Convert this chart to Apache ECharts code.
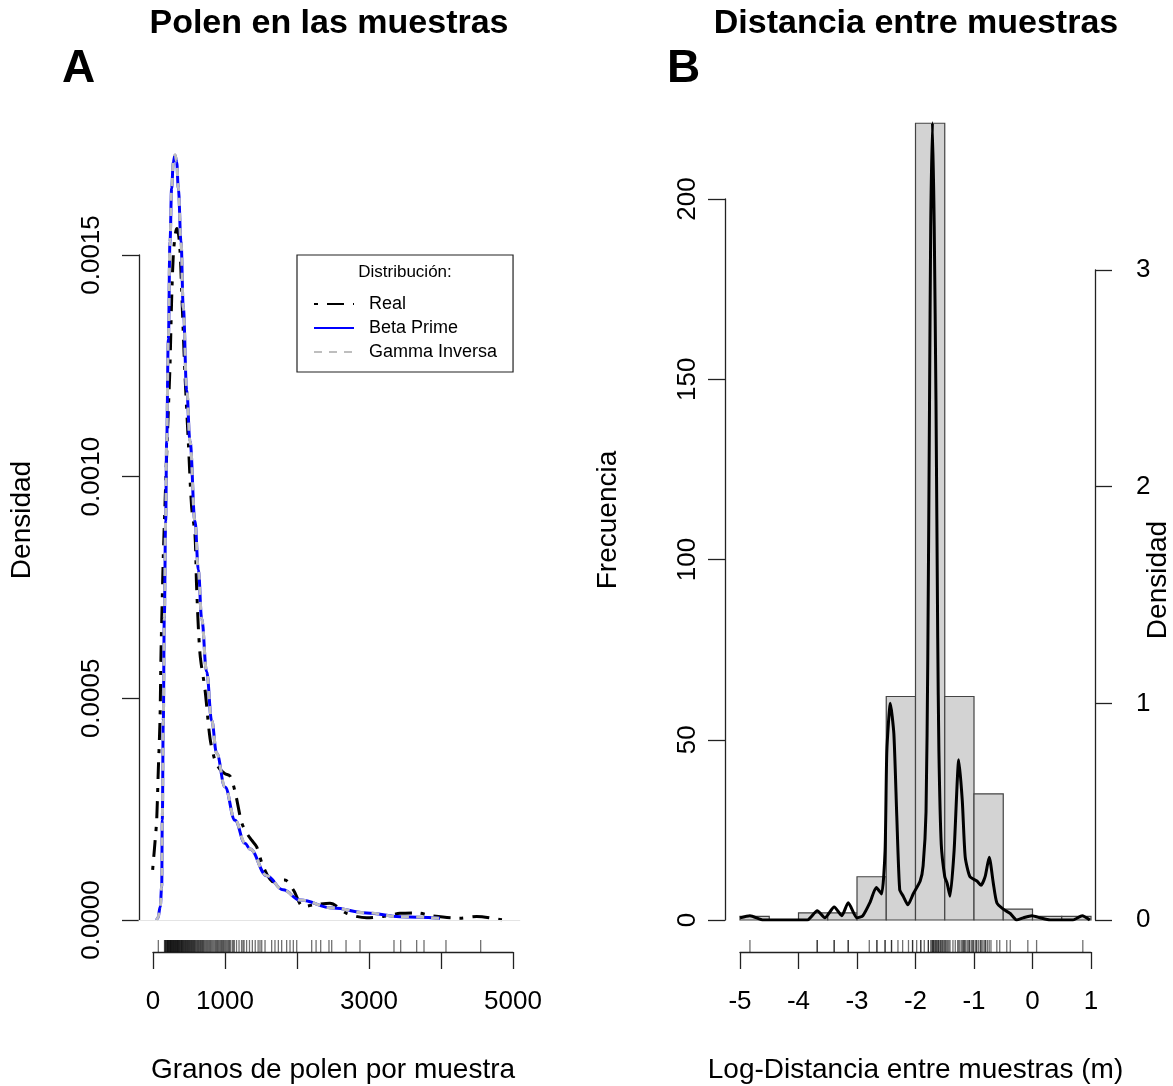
<!DOCTYPE html>
<html><head><meta charset="utf-8">
<script src="https://cdn.jsdelivr.net/npm/echarts@6/dist/echarts.min.js"></script>
<style>html,body{margin:0;padding:0;background:#fff}#c{width:1173px;height:1086px}</style>
</head><body><div id="c"></div>
<script>
const FONT = '"Liberation Sans", Arial, sans-serif';

// ---------- Panel A: pollen grains per sample ----------
const realX = [-5, 30, 51, 74, 97, 111, 125, 143, 165, 190, 213, 236, 259, 282, 305, 329, 352, 375, 398, 444, 490, 537, 583, 606, 653, 722, 792, 861, 930, 1000, 1069, 1139, 1231, 1301, 1370, 1440, 1532, 1671, 1760, 1833, 1949, 2088, 2226, 2458, 2690, 2968, 3194, 3431, 3662, 3889, 4264, 4496, 4819, 4890];
const realY = [0.000113, 0.00018, 0.000225, 0.00034, 0.00045, 0.0006, 0.0007, 0.00082, 0.00093, 0.00105, 0.00115, 0.00125, 0.0014, 0.0015, 0.00154, 0.00156, 0.00155, 0.00151, 0.00142, 0.00123, 0.00108, 0.00093, 0.00087, 0.00075, 0.0006, 0.00052, 0.00041, 0.00036, 0.00034, 0.00033, 0.000325, 0.00029, 0.00022, 0.000196, 0.00018, 0.000165, 0.00012, 0.000086, 0.00009, 0.00009, 0.000068, 0.00003, 0.000034, 0.000038, 0.000015, 0.000005, 0.000008, 0.000015, 0.000016, 0.000009, 0.000004, 0.000008, 0.000001, 0.0];

const betaX = [50, 69, 100, 121, 129, 143, 157, 176, 190, 213, 236, 259, 282, 306, 329, 352, 389, 421, 468, 514, 583, 630, 676, 745, 815, 884, 1000, 1139, 1278, 1347, 1579, 1806, 2042, 2500, 2968, 3431, 3986];
const betaY = [0.0, 0.000005, 0.00003, 0.000075, 0.000225, 0.00045, 0.00068, 0.0009, 0.00108, 0.00131, 0.00153, 0.00165, 0.00171, 0.001725, 0.00171, 0.00165, 0.00153, 0.00138, 0.001195, 0.00108, 0.0009, 0.00079, 0.00068, 0.00056, 0.00045, 0.000376, 0.0003, 0.000225, 0.000173, 0.00016, 0.0001, 0.000068, 0.000045, 0.000027, 0.000016, 0.0000075, 0.000004];

const gammaX = [50, 69, 100, 121, 129, 143, 157, 176, 190, 213, 236, 259, 282, 306, 329, 352, 389, 421, 468, 514, 583, 630, 676, 745, 815, 884, 1000, 1139, 1278, 1347, 1579, 1806, 2042, 2500, 2968, 3431, 3986];
const gammaY = [0.0, 0.000005, 0.00003, 0.000076, 0.000226, 0.00045, 0.00068, 0.0009, 0.00108, 0.00131, 0.00153, 0.00165, 0.001712, 0.001726, 0.001712, 0.00165, 0.00153, 0.00138, 0.0012, 0.00108, 0.0009, 0.00079, 0.00068, 0.00056, 0.00045, 0.000376, 0.0003, 0.000226, 0.000174, 0.00016, 0.0001, 0.000068, 0.000045, 0.000027, 0.000016, 0.0000075, 0.000004];

const rugA = [74, 160, 167, 172, 180, 186, 195, 200, 205, 210, 215, 222, 228, 234, 240, 245, 250, 256, 262, 268, 275, 280, 285, 292, 298, 304, 310, 316, 322, 328, 335, 340, 345, 352, 358, 364, 370, 378, 385, 392, 398, 404, 410, 418, 425, 432, 440, 448, 455, 462, 470, 478, 485, 492, 500, 508, 515, 524, 532, 540, 548, 556, 565, 572, 580, 590, 600, 610, 620, 630, 640, 650, 660, 670, 680, 690, 700, 712, 725, 738, 750, 762, 775, 788, 800, 815, 830, 845, 860, 872, 885, 897, 910, 925, 940, 952, 965, 978, 990, 1005, 1020, 1035, 1050, 1062, 1075, 1100, 1115, 1130, 1160, 1195, 1230, 1250, 1265, 1300, 1340, 1380, 1420, 1460, 1486, 1510, 1556, 1648, 1694, 1741, 1787, 1856, 1903, 1949, 1996, 2204, 2265, 2329, 2444, 2482, 2681, 2875, 3347, 3440, 3662, 3764, 4069, 4551];

const yTicksA = [0, 0.0005, 0.001, 0.0015];
const xTicksA = [0, 1000, 2000, 3000, 4000, 5000];
const xLabelsShownA = [0, 1000, 3000, 5000];

// ---------- Panel B: log-distance between samples ----------
const binEdgesB = [-5, -4.5, -4, -3.5, -3, -2.5, -2, -1.5, -1, -0.5, 0, 0.5, 1];
const countsB = [1, 0, 2, 2, 12, 62, 221, 62, 35, 3, 1, 1];

const densBX = [-5.0, -4.83, -4.6, -4.3, -3.85, -3.68, -3.55, -3.39, -3.26, -3.15, -3.0, -2.9, -2.78, -2.67, -2.58, -2.52, -2.49, -2.43, -2.37, -2.32, -2.27, -2.21, -2.13, -2.04, -1.92, -1.87, -1.82, -1.79, -1.76, -1.74, -1.71, -1.68, -1.65, -1.62, -1.60, -1.56, -1.50, -1.46, -1.41, -1.34, -1.26, -1.20, -1.15, -1.07, -0.95, -0.88, -0.81, -0.74, -0.67, -0.61, -0.50, -0.38, -0.27, -0.16, -0.01, 0.13, 0.30, 0.69, 0.85, 0.98];
const densBY = [0.01, 0.02, 0.0, 0.0, 0.0, 0.043, 0.01, 0.06, 0.02, 0.08, 0.01, 0.02, 0.08, 0.15, 0.12, 0.32, 0.78, 1.0, 0.86, 0.48, 0.14, 0.11, 0.07, 0.12, 0.18, 0.25, 0.5, 1.2, 2.4, 3.2, 3.68, 3.2, 2.4, 1.3, 0.78, 0.35, 0.2, 0.17, 0.11, 0.32, 0.74, 0.55, 0.29, 0.2, 0.18, 0.16, 0.2, 0.29, 0.17, 0.08, 0.05, 0.03, 0.0, 0.01, 0.02, 0.01, 0.0, 0.0, 0.02, 0.0];

const rugB = [-4.83, -3.68, -3.68, -3.39, -3.39, -3.15, -3.15, -2.79, -2.66, -2.66, -2.52, -2.52, -2.41, -2.41, -2.30, -2.22, -2.12, -2.05, -2.05, -1.98, -1.91, -1.91, -1.85, -1.78, -1.78, -1.74, -1.72, -1.71, -1.70, -1.69, -1.68, -1.66, -1.65, -1.64, -1.62, -1.61, -1.60, -1.58, -1.57, -1.55, -1.54, -1.52, -1.50, -1.49, -1.47, -1.45, -1.43, -1.41, -1.36, -1.32, -1.28, -1.26, -1.24, -1.21, -1.19, -1.18, -1.16, -1.15, -1.12, -1.10, -1.08, -1.07, -1.04, -1.02, -1.01, -0.98, -0.96, -0.95, -0.92, -0.89, -0.88, -0.86, -0.83, -0.81, -0.80, -0.77, -0.74, -0.71, -0.61, -0.56, -0.44, -0.38, -0.08, 0.07, 0.86];

const yTicksBLeft = [0, 50, 100, 150, 200];
const yTicksBRight = [0, 1, 2, 3];
const xTicksB = [-5, -4, -3, -2, -1, 0, 1];

// ---------- helpers ----------
const zip = (xs, ys) => xs.map((x, i) => [x, ys[i]]);
const histData = countsB.map((c, i) => [binEdgesB[i], binEdgesB[i + 1], c]);
const AX = '#222';
const tickFont = { fontFamily: FONT, fontSize: 26, color: '#000' };
const hidden = { show: false };
const noSplit = { splitLine: { show: false } };
const nameFont = { fontFamily: FONT, fontSize: 28, color: '#000' };
const RUG = 'rgba(0,0,0,0.7)';

const chart = echarts.init(document.getElementById('c'), null, { renderer: 'canvas' });

const option = {
  animation: false,
  backgroundColor: '#fff',
  textStyle: { fontFamily: FONT },
  title: [
    { text: 'Polen en las muestras', left: 329, top: 7, textAlign: 'center', padding: 0,
      textStyle: { fontSize: 34, fontWeight: 'bold', color: '#000', fontFamily: FONT } },
    { text: 'A', left: 62, top: 46, padding: 0,
      textStyle: { fontSize: 46, fontWeight: 'bold', color: '#000', fontFamily: FONT } },
    { text: 'Distancia entre muestras', left: 916, top: 7, textAlign: 'center', padding: 0,
      textStyle: { fontSize: 34, fontWeight: 'bold', color: '#000', fontFamily: FONT } },
    { text: 'B', left: 667, top: 46, padding: 0,
      textStyle: { fontSize: 46, fontWeight: 'bold', color: '#000', fontFamily: FONT } },
    { text: 'Distribución:', left: 405, top: 264, textAlign: 'center', padding: 0,
      textStyle: { fontSize: 17, fontWeight: 'normal', color: '#000', fontFamily: FONT } }
  ],
  legend: {
    data: ['Real', 'Beta Prime', 'Gamma Inversa'],
    orient: 'vertical',
    left: 297, top: 255,
    padding: [39, 16, 10, 16],
    itemGap: 4,
    itemWidth: 40, itemHeight: 14,
    borderColor: '#222', borderWidth: 1.2, borderRadius: 0,
    selectedMode: false,
    itemStyle: { opacity: 0 },
    textStyle: { fontFamily: FONT, fontSize: 18, color: '#000', lineHeight: 20, padding: [0, 0, 0, 10] }
  },
  grid: [
    { left: 138.6, top: 120, width: 381.6, height: 800 },   // 0 A main
    { left: 139, top: 255, width: 10, height: 665 },       // 1 A y axis
    { left: 153, top: 940, width: 360, height: 12 },       // 2 A rug + x axis
    { left: 740, top: 120, width: 351, height: 800 },      // 3 B main
    { left: 725, top: 199, width: 10, height: 721 },       // 4 B left axis
    { left: 1095, top: 270, width: 10, height: 650 },      // 5 B right axis
    { left: 740, top: 940, width: 351, height: 12 }        // 6 B rug + x axis
  ],
  xAxis: [
    { gridIndex: 0, type: 'value', min: -200, max: 5100, show: false, ...noSplit },
    { gridIndex: 1, type: 'value', min: 0, max: 1, show: false, ...noSplit },
    { gridIndex: 2, type: 'value', min: xTicksA[0], max: xTicksA[xTicksA.length - 1], interval: 1000,
      axisLine: { show: true, lineStyle: { color: AX, width: 1.3 } },
      axisTick: { show: true, length: 17, lineStyle: { color: AX, width: 1.3 } },
      axisLabel: { ...tickFont, margin: 37, formatter: v => xLabelsShownA.includes(v) ? String(v) : '' },
      name: 'Granos de polen por muestra', nameLocation: 'middle', nameGap: 104,
      nameTextStyle: nameFont, ...noSplit },
    { gridIndex: 3, type: 'value', min: -5, max: 1, show: false, ...noSplit },
    { gridIndex: 4, type: 'value', min: 0, max: 1, show: false, ...noSplit },
    { gridIndex: 5, type: 'value', min: 0, max: 1, show: false, ...noSplit },
    { gridIndex: 6, type: 'value', min: xTicksB[0], max: xTicksB[xTicksB.length - 1], interval: 1,
      axisLine: { show: true, lineStyle: { color: AX, width: 1.3 } },
      axisTick: { show: true, length: 17, lineStyle: { color: AX, width: 1.3 } },
      axisLabel: { ...tickFont, margin: 37, formatter: v => String(v) },
      name: 'Log-Distancia entre muestras (m)', nameLocation: 'middle', nameGap: 104,
      nameTextStyle: nameFont, ...noSplit }
  ],
  yAxis: [
    { gridIndex: 0, type: 'value', min: 0, max: 0.0018045,
      axisLine: hidden, axisTick: hidden, axisLabel: hidden,
      name: 'Densidad', nameLocation: 'middle', nameGap: 102, nameRotate: 90,
      nameTextStyle: nameFont, ...noSplit },
    { gridIndex: 1, type: 'value', min: yTicksA[0], max: yTicksA[yTicksA.length - 1], interval: 0.0005,
      axisLine: { show: true, lineStyle: { color: AX, width: 1.3 } },
      axisTick: { show: true, length: 17, lineStyle: { color: AX, width: 1.3 } },
      axisLabel: { ...tickFont, rotate: 90, margin: 34, formatter: v => v.toFixed(4) }, ...noSplit },
    { gridIndex: 2, type: 'value', min: 0, max: 1, show: false, ...noSplit },
    { gridIndex: 3, type: 'value', min: 0, max: 221.9,
      axisLine: hidden, axisTick: hidden, axisLabel: hidden,
      name: 'Frecuencia', nameLocation: 'middle', nameGap: 118, nameRotate: 90,
      nameTextStyle: nameFont, ...noSplit },
    { gridIndex: 3, type: 'value', min: 0, max: 3.6923, position: 'right', show: false, ...noSplit },
    { gridIndex: 4, type: 'value', min: yTicksBLeft[0], max: yTicksBLeft[yTicksBLeft.length - 1], interval: 50,
      axisLine: { show: true, lineStyle: { color: AX, width: 1.3 } },
      axisTick: { show: true, length: 17, lineStyle: { color: AX, width: 1.3 } },
      axisLabel: { ...tickFont, rotate: 90, margin: 24 }, ...noSplit },
    { gridIndex: 5, type: 'value', position: 'right', min: yTicksBRight[0], max: yTicksBRight[yTicksBRight.length - 1], interval: 1,
      axisLine: { show: true, lineStyle: { color: AX, width: 1.3 } },
      axisTick: { show: true, length: 17, lineStyle: { color: AX, width: 1.3 } },
      axisLabel: { ...tickFont, margin: 31 }, ...noSplit },
    { gridIndex: 6, type: 'value', min: 0, max: 1, show: false, ...noSplit }
  ],
  graphic: [
    { type: 'text', x: 1158, y: 580, rotation: Math.PI / 2,
      style: { text: 'Densidad', font: '28px ' + FONT, fill: '#000', align: 'center', verticalAlign: 'middle' } }
  ],
  series: [
    { name: 'Real', type: 'line', xAxisIndex: 0, yAxisIndex: 0, data: zip(realX, realY),
      symbol: 'none', smooth: 0.3, z: 3,
      lineStyle: { color: '#000', width: 3, type: [4, 9, 17, 9], cap: 'butt' },
      itemStyle: { color: '#000' },
      markLine: { silent: true, symbol: 'none', label: { show: false },
        lineStyle: { color: '#e4e4e4', width: 1, type: 'solid' }, data: [{ yAxis: 0 }] } },
    { name: 'Beta Prime', type: 'line', xAxisIndex: 0, yAxisIndex: 0, data: zip(betaX, betaY),
      symbol: 'none', smooth: 0.4, smoothMonotone: 'x', z: 4,
      lineStyle: { color: '#0000ff', width: 3, type: 'solid' }, itemStyle: { color: '#0000ff' } },
    { name: 'Gamma Inversa', type: 'line', xAxisIndex: 0, yAxisIndex: 0, data: zip(gammaX, gammaY),
      symbol: 'none', smooth: 0.4, smoothMonotone: 'x', z: 5,
      lineStyle: { color: '#bebebe', width: 3, type: [8, 7] }, itemStyle: { color: '#bebebe' } },
    { name: 'rugA', type: 'scatter', xAxisIndex: 2, yAxisIndex: 2, data: rugA.map(v => [v, 0.5]),
      symbol: 'rect', symbolSize: [1.3, 12], silent: true,
      itemStyle: { color: RUG } },
    { name: 'hist', type: 'custom', xAxisIndex: 3, yAxisIndex: 3, data: histData, silent: true, z: 2,
      renderItem: (params, api) => {
        const p0 = api.coord([api.value(0), api.value(2)]);
        const p1 = api.coord([api.value(1), 0]);
        return { type: 'rect', shape: { x: p0[0], y: p0[1], width: p1[0] - p0[0], height: p1[1] - p0[1] },
          style: { fill: '#d3d3d3', stroke: '#444', lineWidth: 1.2 } };
      } },
    { name: 'densB', type: 'line', xAxisIndex: 3, yAxisIndex: 4, data: zip(densBX, densBY),
      symbol: 'none', smooth: 0.2, z: 4,
      lineStyle: { color: '#000', width: 3 } },
    { name: 'rugB', type: 'scatter', xAxisIndex: 6, yAxisIndex: 7, data: rugB.map(v => [v, 0.5]),
      symbol: 'rect', symbolSize: [1.3, 12], silent: true,
      itemStyle: { color: RUG } }
  ]
};
chart.setOption(option);
</script>
</body></html>
